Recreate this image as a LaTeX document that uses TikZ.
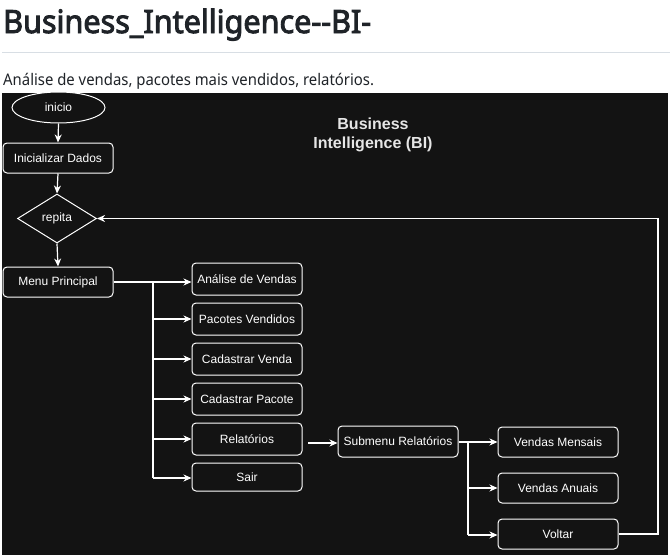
\documentclass[tikz,border=0pt]{standalone}
\usepackage{fontspec}
\setmainfont{Liberation Sans}
\newfontfamily\hdfont{Noto Sans}
\newfontfamily\hdboldfont[FakeBold=3]{Noto Sans}
\usetikzlibrary{arrows.meta,shapes.geometric}
\definecolor{bgdark}{HTML}{131313}
\definecolor{hdtext}{HTML}{1F2328}
\definecolor{hrule}{HTML}{D8DEE4}
\definecolor{ttl}{HTML}{E6E6E6}
\tikzset{
  flowbox/.style={draw=white, rounded corners=4pt, fill=bgdark, text=white,
    font=\fontsize{12}{14}\selectfont, minimum width=110pt, minimum height=32pt,
    inner sep=0pt, line width=1pt},
  flowline/.style={draw=white, line width=1.2pt},
  flowarrow/.style={flowline, -{Stealth[length=8pt,width=7pt,inset=2.5pt]}},
}
\begin{document}
\begin{tikzpicture}[x=1pt,y=-1pt]
\useasboundingbox (0,0) rectangle (670,555);
\fill[white] (0,0) rectangle (670,555);
% header
\node[anchor=base west, inner sep=0pt, font=\hdboldfont\fontsize{32}{38}\selectfont, text=hdtext] (pagetitle) at (3,33) {\scalebox{0.955}[1]{Business\_Intelligence-\kern0pt-BI-}};
\draw[hrule, line width=1pt] (2,52) -- (670,52);
\node[anchor=base west, inner sep=0pt, font=\hdfont\fontsize{16}{19}\selectfont, text=hdtext] (subtitle) at (3,85) {\scalebox{0.93}[1]{Análise de vendas, pacotes mais vendidos, relatórios.}};
% dark canvas
\fill[bgdark] (2,92.5) rectangle (668,555);
% diagram title
\node[align=center, text=ttl, font=\bfseries\fontsize{16}{19}\selectfont] (bititle) at (373,134.5) {Business\\Intelligence (BI)};
% left column
\node[ellipse, draw=white, line width=1pt, fill=bgdark, text=white, font=\fontsize{12}{14}\selectfont, minimum width=93pt, minimum height=31pt, inner sep=0pt] (inicio) at (58.5,107.5) {inicio};
\node[flowbox, minimum height=30pt] (init) at (58,158) {Inicializar Dados};
\node[diamond, draw=white, line width=1pt, fill=bgdark, text=white, font=\fontsize{12}{14}\selectfont, minimum width=79pt, minimum height=49pt, inner sep=0pt] (repita) at (57,218.5) {repita};
\node[flowbox, minimum height=30pt] (menu) at (58,282) {Menu Principal};
% menu options
\node[flowbox] (ana) at (247,279) {Análise de Vendas};
\node[flowbox] (pac) at (247,319) {Pacotes Vendidos};
\node[flowbox] (cven) at (247,359) {Cadastrar Venda};
\node[flowbox] (cpac) at (247,399) {Cadastrar Pacote};
\node[flowbox] (rel) at (247,439) {Relatórios};
\node[flowbox, minimum height=28pt] (sair) at (247,477) {Sair};
% submenu
\node[flowbox, minimum width=120pt, minimum height=31pt] (sub) at (398,441.5) {Submenu Relatórios};
\node[flowbox, minimum width=120pt, minimum height=30pt] (vmen) at (558,442) {Vendas Mensais};
\node[flowbox, minimum width=120pt, minimum height=30pt] (vanu) at (558,488) {Vendas Anuais};
\node[flowbox, minimum width=120pt, minimum height=30pt] (volt) at (558,534) {Voltar};
% coordinates
\coordinate (trunk) at (153,282);
\coordinate (trunkend) at (153,478);
\coordinate (relout) at (308,443);
\coordinate (trunkb) at (468,442);
\coordinate (trunkbend) at (468,535);
\coordinate (loopx) at (658,534);
% connectors
\draw[flowarrow] (inicio.south) -- (init.north);
\draw[flowarrow] (init.south) -- (repita.north);
\draw[flowarrow] (repita.south) -- (menu.north);
\draw[flowarrow] (menu.east |- trunk) -- (trunk -| ana.west);
\draw[flowline] (trunk) -- (trunkend);
\draw[flowarrow] (trunk |- pac) -- (pac.west);
\draw[flowarrow] (trunk |- cven) -- (cven.west);
\draw[flowarrow] (trunk |- cpac) -- (cpac.west);
\draw[flowarrow] (trunk |- rel) -- (rel.west);
\draw[flowarrow] (trunkend) -- (trunkend -| sair.west);
\draw[flowarrow] (relout) -- (relout -| sub.west);
\draw[flowarrow] (sub.east |- trunkb) -- (vmen.west);
\draw[flowline] (trunkb) -- (trunkbend);
\draw[flowarrow] (trunkb |- vanu) -- (vanu.west);
\draw[flowarrow] (trunkbend) -- (trunkbend -| volt.west);
\draw[flowarrow] (volt.east) -- (loopx) -- (loopx |- repita) -- (repita.east);
\end{tikzpicture}
\end{document}
